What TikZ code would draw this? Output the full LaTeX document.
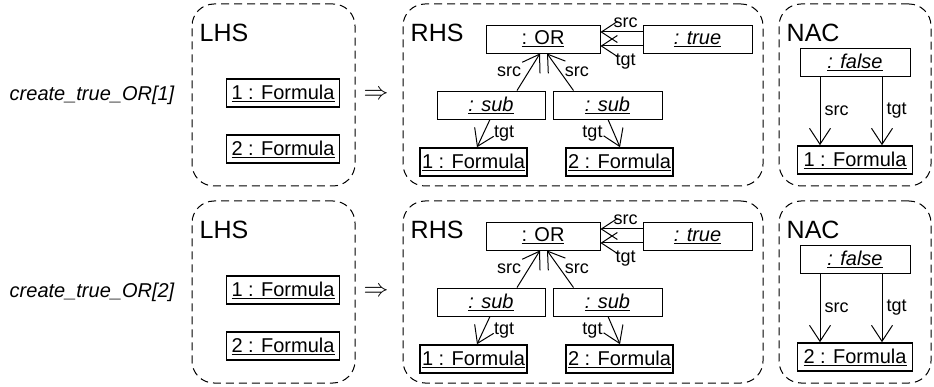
\documentclass[tikz,border=0pt]{standalone}
\usepackage{fontspec}
\setmainfont{Liberation Sans}
\usetikzlibrary{arrows.meta}

\tikzset{
  objbox/.style={draw, line width=0.9pt, minimum height=28pt, inner sep=2pt,
    font=\fontsize{20}{23}\selectfont},
  formulabox/.style={objbox, line width=1.6pt},
  graphbox/.style={draw, dash pattern=on 8pt off 5pt, line width=1pt,
    rounded corners=22pt, minimum height=182pt},
  graphname/.style={anchor=north west, inner sep=0pt, font=\fontsize{25}{28}\selectfont},
  rolename/.style={inner sep=4pt, font=\fontsize{18}{21}\selectfont},
  link/.style={line width=1pt, -{Straight Barb[length=16pt, width=21pt]}},
}

\begin{document}
\begin{tikzpicture}[x=1pt, y=-1pt]
  \useasboundingbox (0,0) rectangle (934,387);
  \foreach \n/\r in {1/0, 2/197} {
    % rule name
    \node[font=\itshape\fontsize{20}{23}\selectfont] (rule\n) at (92, 95+\r) {create\_true\_OR[\n]};
    % LHS
    \node[graphbox, minimum width=163pt] (LHS\n) at (273.5, 95+\r) {};
    \node[graphname] (LHSt\n) at ([shift={(8pt,-20pt)}]LHS\n.north west) {LHS};
    \node[formulabox, minimum width=113pt] (lfA\n) at (283, 93+\r) {\underline{1 : Formula}};
    \node[formulabox, minimum width=113pt] (lfB\n) at (283, 149+\r) {\underline{2 : Formula}};
    \node[font=\fontsize{26}{28}\selectfont] (imp\n) at (376, 95+\r) {$\Rightarrow$};
    % RHS
    \node[graphbox, minimum width=360pt] (RHS\n) at (583, 95+\r) {};
    \node[graphname] (RHSt\n) at ([shift={(8pt,-20pt)}]RHS\n.north west) {RHS};
    \node[objbox, minimum width=114pt] (or\n) at (543, 39+\r) {\underline{: OR}};
    \node[objbox, minimum width=109pt] (true\n) at (697.5, 39+\r) {\underline{\itshape : true}};
    \node[objbox, minimum width=108pt] (subA\n) at (491, 105+\r) {\underline{\itshape : sub}};
    \node[objbox, minimum width=109pt] (subB\n) at (607.5, 105+\r) {\underline{\itshape : sub}};
    \node[formulabox, minimum width=107pt] (rfA\n) at (473.5, 162+\r) {\underline{1 : Formula}};
    \node[formulabox, minimum width=105pt] (rfB\n) at (619.5, 162+\r) {\underline{2 : Formula}};
    \path ([yshift=7pt]true\n.west) edge[link] node[rolename, above, pos=0.4] {src} ([yshift=7pt]or\n.east);
    \path ([yshift=-7pt]true\n.west) edge[link] node[rolename, below, pos=0.4, yshift=-3pt] {tgt} ([yshift=-7pt]or\n.east);
    \path ([xshift=26pt]subA\n.north) edge[link] node[rolename, left, xshift=-3pt] {src} ([xshift=-3pt]or\n.south);
    \path ([xshift=-34pt]subB\n.north) edge[link] node[rolename, right] {src} ([xshift=4pt]or\n.south);
    \path ([xshift=-1pt]subA\n.south) edge[link] node[rolename, right, xshift=6pt] {tgt} ([xshift=3.5pt]rfA\n.north);
    \path ([xshift=0.5pt]subB\n.south) edge[link] node[rolename, left, xshift=-7pt] {tgt} ([xshift=0.5pt]rfB\n.north);
    % NAC
    \node[graphbox, minimum width=152pt] (NAC\n) at (855, 95+\r) {};
    \node[graphname] (NACt\n) at ([shift={(8pt,-20pt)}]NAC\n.north west) {NAC};
    \node[objbox, minimum width=110pt] (false\n) at (855, 62+\r) {\underline{\itshape : false}};
    \node[formulabox, minimum width=115pt] (nf\n) at (855, 160+\r) {\underline{\n{} : Formula}};
    \path ([xshift=-35pt]false\n.south) edge[link] node[rolename, right] {src} ([xshift=-35pt]nf\n.north);
    \path ([xshift=27pt]false\n.south) edge[link] node[rolename, right] {tgt} ([xshift=27pt]nf\n.north);
  }
\end{tikzpicture}
\end{document}
